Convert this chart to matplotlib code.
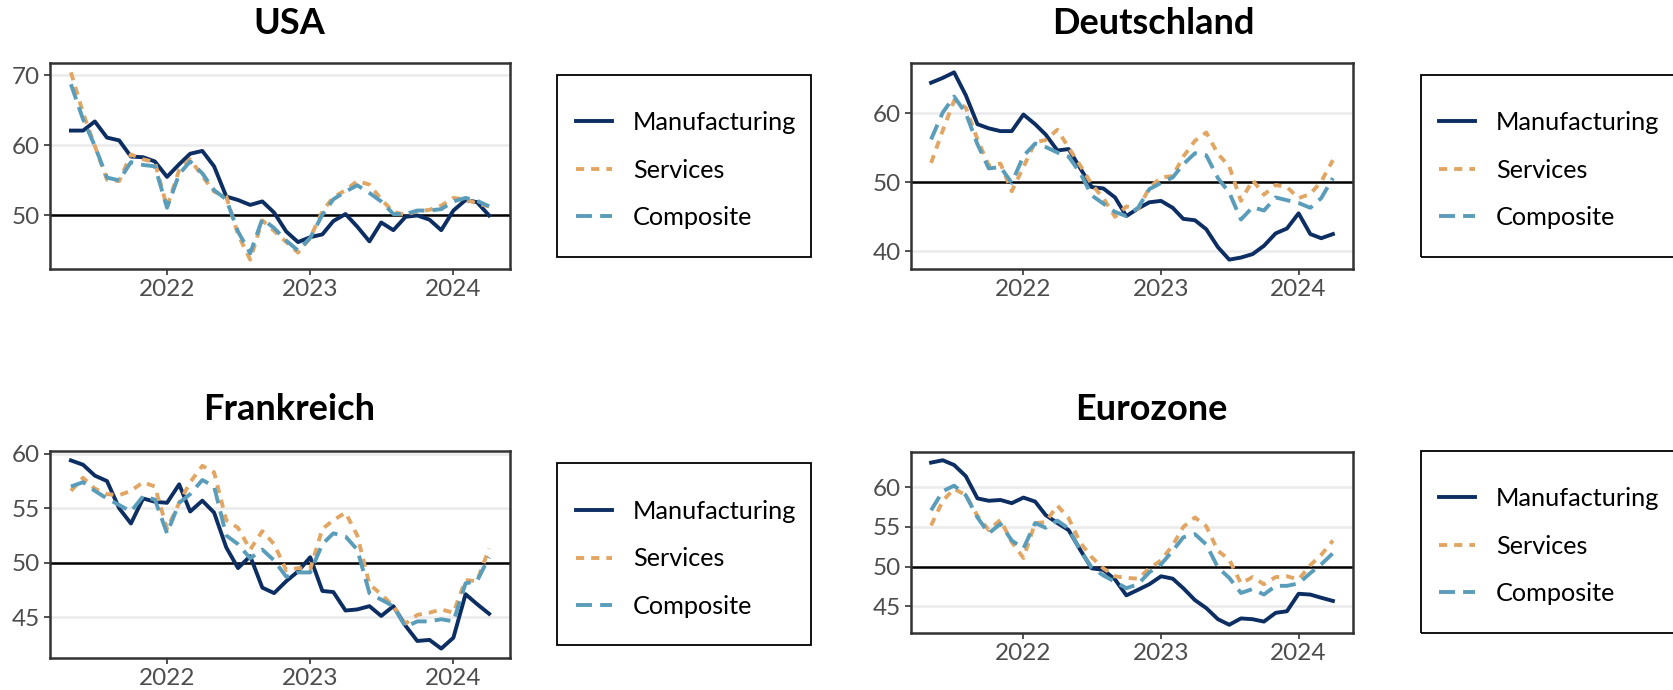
import matplotlib.pyplot as plt
import matplotlib.dates as mdates
from matplotlib.patches import Rectangle
from matplotlib.ticker import MultipleLocator
import pandas as pd

# monthly PMI readings, May 2021 - Apr 2024
months = pd.date_range('2021-05-01', '2024-04-01', freq='MS')
series_names = ['Manufacturing', 'Services', 'Composite']

usa_manufacturing = [62.1, 62.1, 63.4, 61.1, 60.7, 58.4, 58.3, 57.7, 55.5, 57.3, 58.8, 59.2,
                     57.0, 52.7, 52.2, 51.5, 52.0, 50.4, 47.7, 46.2, 46.9, 47.3, 49.2, 50.2,
                     48.4, 46.3, 49.0, 47.9, 49.8, 50.0, 49.4, 47.9, 50.7, 52.2, 51.9, 50.0]
usa_services = [70.4, 64.6, 59.9, 55.1, 54.9, 58.7, 58.0, 57.6, 51.2, 56.5, 58.0, 55.6,
                53.4, 52.7, 47.3, 43.7, 49.3, 47.8, 46.2, 44.7, 46.8, 50.6, 52.6, 53.6,
                54.9, 54.4, 52.3, 50.5, 50.1, 50.6, 50.8, 51.4, 52.5, 52.3, 51.7, 51.3]
usa_composite = [68.7, 63.7, 59.9, 55.4, 55.0, 57.6, 57.2, 57.0, 51.1, 55.9, 57.7, 56.0,
                 53.6, 52.3, 47.7, 44.6, 49.5, 48.2, 46.4, 45.0, 46.8, 50.1, 52.3, 53.4,
                 54.3, 53.2, 52.0, 50.2, 50.2, 50.7, 50.7, 50.9, 52.0, 52.5, 52.1, 51.3]

de_manufacturing = [64.4, 65.1, 65.9, 62.6, 58.4, 57.8, 57.4, 57.4, 59.8, 58.4, 56.9, 54.6,
                    54.8, 52.0, 49.3, 49.1, 47.8, 45.1, 46.2, 47.1, 47.3, 46.3, 44.7, 44.5,
                    43.2, 40.6, 38.8, 39.1, 39.6, 40.8, 42.6, 43.3, 45.5, 42.5, 41.9, 42.5]
de_services = [52.8, 57.5, 61.8, 60.8, 56.2, 52.4, 52.7, 48.7, 52.2, 55.8, 56.1, 57.6,
               55.0, 52.4, 49.7, 47.7, 45.0, 46.5, 46.1, 49.2, 50.7, 50.9, 53.7, 56.0,
               57.2, 54.1, 52.3, 47.3, 50.3, 48.2, 49.6, 49.3, 47.7, 48.3, 50.1, 53.2]
de_composite = [56.2, 60.1, 62.4, 60.0, 55.5, 52.0, 52.2, 49.9, 53.8, 55.6, 55.1, 54.3,
                53.7, 51.3, 48.1, 46.9, 45.7, 45.1, 46.3, 49.0, 49.9, 50.7, 52.6, 54.2,
                53.9, 50.6, 48.5, 44.6, 46.4, 45.9, 47.8, 47.4, 47.0, 46.3, 47.7, 50.6]

fr_manufacturing = [59.4, 59.0, 58.0, 57.5, 55.0, 53.6, 55.9, 55.6, 55.5, 57.2, 54.7, 55.7,
                    54.6, 51.4, 49.5, 50.6, 47.7, 47.2, 48.3, 49.2, 50.5, 47.4, 47.3, 45.6,
                    45.7, 46.0, 45.1, 46.0, 44.2, 42.8, 42.9, 42.1, 43.1, 47.1, 46.2, 45.3]
fr_services = [56.6, 57.8, 56.8, 56.3, 56.2, 56.6, 57.4, 57.0, 53.1, 55.5, 57.4, 58.9,
               58.3, 53.9, 53.2, 51.2, 52.9, 51.7, 49.3, 49.5, 49.4, 53.1, 53.9, 54.6,
               52.5, 48.0, 47.1, 46.0, 44.4, 45.2, 45.4, 45.7, 45.4, 48.4, 48.3, 51.3]
fr_composite = [57.0, 57.4, 56.6, 55.9, 55.3, 54.7, 56.1, 55.8, 52.7, 55.5, 56.3, 57.6,
                57.0, 52.5, 51.7, 50.4, 51.2, 50.2, 48.7, 49.1, 49.1, 51.7, 52.7, 52.4,
                51.2, 47.2, 46.6, 46.0, 44.1, 44.6, 44.6, 44.8, 44.6, 48.1, 48.3, 50.5]

ez_manufacturing = [63.1, 63.4, 62.8, 61.4, 58.6, 58.3, 58.4, 58.0, 58.7, 58.2, 56.5, 55.5,
                    54.6, 52.1, 49.8, 49.6, 48.4, 46.4, 47.1, 47.8, 48.8, 48.5, 47.3, 45.8,
                    44.8, 43.4, 42.7, 43.5, 43.4, 43.1, 44.2, 44.4, 46.6, 46.5, 46.1, 45.7]
ez_services = [55.2, 58.3, 59.8, 59.0, 56.4, 54.6, 55.9, 53.1, 51.1, 55.5, 55.6, 57.7,
               56.1, 53.0, 51.2, 49.8, 48.8, 48.6, 48.5, 49.8, 50.8, 52.7, 55.0, 56.2,
               55.1, 52.0, 50.9, 47.9, 48.7, 47.8, 48.7, 48.8, 48.4, 50.2, 51.5, 53.3]
ez_composite = [57.1, 59.5, 60.2, 59.0, 56.2, 54.2, 55.4, 53.3, 52.3, 55.5, 54.9, 55.8,
                54.8, 52.0, 49.9, 48.9, 48.1, 47.3, 47.8, 49.3, 50.3, 52.0, 53.7, 54.1,
                52.8, 49.9, 48.6, 46.7, 47.2, 46.5, 47.6, 47.6, 47.9, 49.2, 50.3, 51.7]

W, H = 1674, 690 #figure size in pixels

def px_rect(left, top, right, bottom): #convert pixel box (top-left origin) to figure fractions
    return [left / W, 1 - bottom / H, (right - left) / W, (bottom - top) / H]

def DrawPanel(fig, title, data, step, ax_box, title_xy, legend_box, handle_x, legend_y):
    ax = fig.add_axes(px_rect(*ax_box))
    ax.axhline(50, color='black', linewidth=1.8, zorder=2) #the 50 expansion threshold
    styles = [dict(color='#0C2E63', linestyle='-'),
              dict(color='#E2A664', linestyle=(0, (2.1, 1.8))),
              dict(color='#5A9DBA', linestyle=(0, (4.1, 2.1)))]
    for name, values, st in zip(series_names, data, styles):
        ax.plot(months, values, linewidth=2.8, label=name, zorder=3, **st)
    ax.margins(x=0.05, y=0.05)
    ax.yaxis.set_major_locator(MultipleLocator(step))
    ax.xaxis.set_major_locator(mdates.YearLocator())
    ax.xaxis.set_major_formatter(mdates.DateFormatter('%Y'))
    ax.grid(axis='y', color='#EBEBEB', linewidth=1.8, zorder=0)
    ax.set_axisbelow(True)
    for s in ax.spines.values():
        s.set_color('#333333')
        s.set_linewidth(1.8)
    ax.tick_params(labelsize=17.5, labelcolor='#4D4D4D', color='#333333', length=4, width=1.2, pad=3)

    fig.text(title_xy[0] / W, 1 - title_xy[1] / H, title, fontsize=26, fontweight='bold', ha='center', va='center')

    l, t, r, b = legend_box #draw the legend frame then put the entries inside it
    fig.add_artist(Rectangle((l / W, 1 - b / H), (r - l) / W, (b - t) / H, transform=fig.transFigure,
                             fill=False, edgecolor='black', linewidth=1.3))
    handles, labels = ax.get_legend_handles_labels()
    fig.legend(handles, labels, loc='center left', bbox_to_anchor=(handle_x / W, 1 - legend_y / H),
               frameon=False, fontsize=18.2, handlelength=1.42, handletextpad=0.83, labelspacing=0.96,
               borderpad=0, borderaxespad=0)

def main():
    plt.rcParams['font.family'] = ['Lato', 'DejaVu Sans']
    fig = plt.figure(figsize=(W / 100, H / 100), dpi=100)

    DrawPanel(fig, 'USA', [usa_manufacturing, usa_services, usa_composite], 10,
              (50, 63, 510, 269), (289, 24), (557, 75, 811, 257), 576, 170)
    DrawPanel(fig, 'Deutschland', [de_manufacturing, de_services, de_composite], 10,
              (911, 63, 1353, 269), (1153, 24), (1421, 75, 1676, 257), 1439, 170)
    DrawPanel(fig, 'Frankreich', [fr_manufacturing, fr_services, fr_composite], 5,
              (50, 451, 510, 658), (289, 410), (557, 463, 811, 645), 576, 559)
    DrawPanel(fig, 'Eurozone', [ez_manufacturing, ez_services, ez_composite], 5,
              (911, 452, 1353, 633), (1151, 410), (1421, 451, 1676, 633), 1439, 546)

    fig.savefig('out.png', dpi=100)

if __name__ == "__main__":
    main()
